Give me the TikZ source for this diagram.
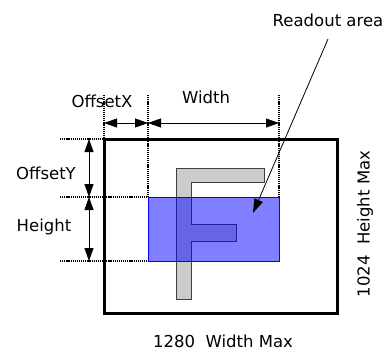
\documentclass[tikz,border=0pt]{standalone}
\usepackage{fontspec}
\setmainfont{DejaVu Sans}
\usetikzlibrary{arrows.meta}
\begin{document}
\begin{tikzpicture}[x=1pt,y=-1pt,
  guide/.style={line width=1.2pt,dash pattern=on 1.2pt off 0.9pt},
  dim/.style={line width=0.8pt,{Triangle[length=13pt,width=9pt]}-{Triangle[length=13pt,width=9pt]}},
  lbl/.style={font=\fontsize{16.5}{19}\selectfont,inner sep=0pt},
  ptr/.style={line width=0.8pt,-{Triangle[length=14pt,width=9pt]}}]
\useasboundingbox (0,0) rectangle (387,354);
% sensor frame
\draw[line width=3pt] (104,139) rectangle (337,313);
% F shape
\draw[fill=black!20,line width=1pt,draw=black!75]
  (176,168) -- (264,168) -- (264,182) -- (191,182) -- (191,224) -- (236,224)
  -- (236,241) -- (191,241) -- (191,299) -- (176,299) -- cycle;
% readout area
\draw[draw=blue,line width=1pt,fill=blue,fill opacity=0.5] (148,197) rectangle (279,261);
% guides
\coordinate (gx0t) at (104,95);  \coordinate (gx0b) at (104,139);
\coordinate (gx1t) at (148,95);  \coordinate (gx1b) at (148,197);
\coordinate (gx2t) at (279,95);  \coordinate (gx2b) at (279,197);
\coordinate (gy0l) at (60,139);  \coordinate (gy0r) at (104,139);
\coordinate (gy1l) at (60,197);  \coordinate (gy1r) at (148,197);
\coordinate (gy2l) at (60,261);  \coordinate (gy2r) at (148,261);
\draw[guide] (gx0t) -- (gx0b);
\draw[guide] (gx1t) -- (gx1b);
\draw[guide] (gx2t) -- (gx2b);
\draw[guide] (gy0l) -- (gy0r);
\draw[guide] (gy1l) -- (gy1r);
\draw[guide] (gy2l) -- (gy2r);
% dimension arrows
\coordinate (ax0) at (104,123); \coordinate (ax1) at (148,123); \coordinate (ax2) at (279,123);
\coordinate (ay0) at (89,139); \coordinate (ay1) at (89,197); \coordinate (ay2) at (89,261);
\draw[dim] (ax0) -- (ax1);
\draw[dim] (ax1) -- (ax2);
\draw[dim] (ay0) -- (ay1);
\draw[dim] (ay1) -- (ay2);
% labels
\node[lbl] (offx) at (102,101) {OffsetX};
\node[lbl] (wid) at (206,97) {Width};
\node[lbl] (offy) at (46,173) {OffsetY};
\node[lbl] (hei) at (44,227) {Height};
\node[lbl] (ro) at (328,20) {Readout area};
\node[lbl,rotate=90] (hmax) at (365,224) {1024\ \ Height Max};
\node[lbl] (wmax) at (223,341) {1280\ \ Width Max};
% pointer
\coordinate (rs) at (328,39);
\coordinate (tip) at (253,213);
\draw[ptr] (rs) -- (tip);
\end{tikzpicture}
\end{document}
